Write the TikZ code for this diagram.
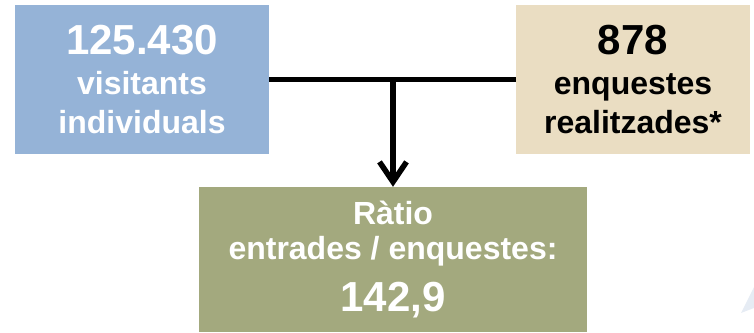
\documentclass[tikz,border=0pt]{standalone}
\usepackage{fontspec}
\setmainfont{Liberation Sans}
\usetikzlibrary{arrows.meta}
\definecolor{visitblue}{HTML}{95B3D7}
\definecolor{surveytan}{HTML}{EADDC2}
\definecolor{ratiogreen}{HTML}{A3A97E}
\definecolor{shadeblue}{HTML}{E6ECF4}
\newcommand{\bignum}[1]{{\fontsize{42}{42}\selectfont #1}}

\begin{document}
\begin{tikzpicture}[x=1pt, y=1pt,
  box/.style={inner sep=0pt, align=center, font=\bfseries\fontsize{32}{39.5}\selectfont},
  link/.style={line width=5.5pt, black}]
 \useasboundingbox (0,0) rectangle (754,332);
 \fill[shadeblue] (741,19) -- (754,45) -- (754,24) -- cycle;

 \node[box, fill=visitblue, text=white, minimum width=254pt, minimum height=149pt] (visit) at (142,252.5) {\bignum{125.430}\\visitants\\individuals};
 \node[box, fill=surveytan, text=black, minimum width=234pt, minimum height=149pt] (survey) at (633,252.5) {\bignum{878}\\enquestes\\realitzades*};
 \node[box, fill=ratiogreen, text=white, minimum width=388pt, minimum height=145pt, font=\bfseries\fontsize{32}{35}\selectfont] (ratio) at (393,72.5) {Ràtio\\entrades / enquestes:\\[16pt]\bignum{142,9}};

 \coordinate (join) at (ratio.north |- visit.east);
 \path[link] (visit) edge (survey);
 \path[link, -{Straight Barb[length=20pt, width=27pt]}] (join) edge (ratio);
\end{tikzpicture}
\end{document}
